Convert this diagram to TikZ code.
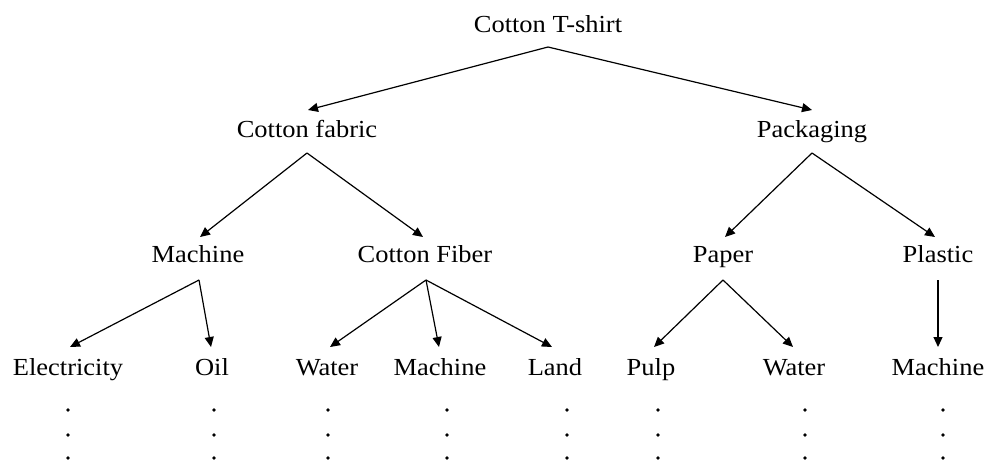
\documentclass[tikz,border=0pt]{standalone}
\usepackage{fontspec}
\setmainfont{Liberation Serif}[FakeStretch=1.08]
\usetikzlibrary{arrows.meta}
\tikzset{
  lbl/.style={anchor=base, inner sep=0pt, font=\fontsize{24.5}{28}\selectfont},
  arr/.style={-{Triangle[length=10pt,width=9pt]}, line width=1.2pt, black},
  dotm/.style={fill=black}
}
\begin{document}
\begin{tikzpicture}[x=1pt,y=-1pt]
\useasboundingbox (0,0) rectangle (985,464);
% level 1
\node[lbl] (ts) at (548,32) {Cotton T-shirt};
% level 2
\node[lbl] (cf) at (307,137) {Cotton fabric};
\node[lbl] (pk) at (812,137) {Packaging};
% level 3
\node[lbl] (m1) at (198,262) {Machine};
\node[lbl] (fi) at (425,262) {Cotton Fiber};
\node[lbl] (pa) at (723,262) {Paper};
\node[lbl] (pl) at (938,262) {Plastic};
% level 4
\node[lbl] (el) at (68,375) {Electricity};
\node[lbl] (oi) at (212,375) {Oil};
\node[lbl] (w1) at (327,375) {Water};
\node[lbl] (m2) at (440,375) {Machine};
\node[lbl] (la) at (555,375) {Land};
\node[lbl] (pu) at (651,375) {Pulp};
\node[lbl] (w2) at (794,375) {Water};
\node[lbl] (m3) at (938,375) {Machine};
% connectors
\draw[arr] ([yshift=-15pt]ts.base) -- ([xshift=1pt,yshift=27pt]cf.base);
\draw[arr] ([yshift=-15pt]ts.base) -- ([yshift=27pt]pk.base);
\draw[arr] ([yshift=-16pt]cf.base) -- ([xshift=2pt,yshift=25pt]m1.base);
\draw[arr] ([yshift=-16pt]cf.base) -- ([xshift=-2pt,yshift=25pt]fi.base);
\draw[arr] ([yshift=-16pt]pk.base) -- ([xshift=2pt,yshift=25pt]pa.base);
\draw[arr] ([yshift=-16pt]pk.base) -- ([xshift=-3pt,yshift=25pt]pl.base);
\draw[arr] ([xshift=1pt,yshift=-18pt]m1.base) -- ([xshift=2pt,yshift=28pt]el.base);
\draw[arr] ([xshift=1pt,yshift=-18pt]m1.base) -- ([xshift=-1pt,yshift=28pt]oi.base);
\draw[arr] ([xshift=1pt,yshift=-18pt]fi.base) -- ([xshift=3pt,yshift=28pt]w1.base);
\draw[arr] ([xshift=1pt,yshift=-18pt]fi.base) -- ([xshift=-1pt,yshift=28pt]m2.base);
\draw[arr] ([xshift=1pt,yshift=-18pt]fi.base) -- ([xshift=-3pt,yshift=28pt]la.base);
\draw[arr] ([yshift=-18pt]pa.base) -- ([xshift=3pt,yshift=28pt]pu.base);
\draw[arr] ([yshift=-18pt]pa.base) -- ([xshift=-1pt,yshift=28pt]w2.base);
\draw[arr] ([yshift=-18pt]pl.base) -- ([yshift=28pt]m3.base);
% continuation dots
\foreach \x in {68,214,328,447,567,658,805,943}{
  \foreach \y in {410,435,458}{
    \fill[dotm] (\x,\y) circle (1.9pt);
  }
}
\end{tikzpicture}
\end{document}
